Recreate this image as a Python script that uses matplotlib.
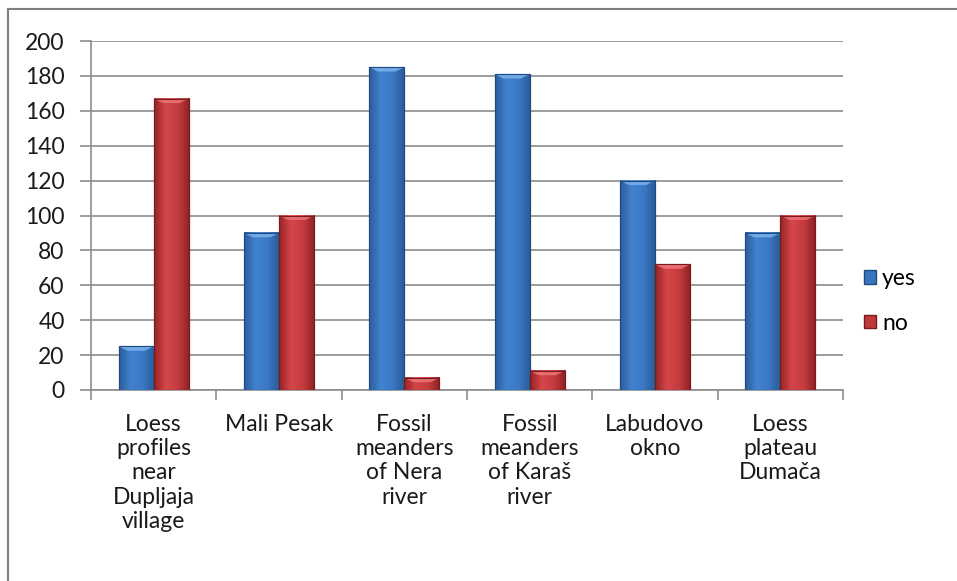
import matplotlib
matplotlib.use("Agg")
import matplotlib.pyplot as plt
import numpy as np
from matplotlib.patches import Rectangle, Polygon
from matplotlib.colors import LinearSegmentedColormap

categories = ["Loess\nprofiles\nnear\nDupljaja\nvillage", "Mali Pesak",
              "Fossil\nmeanders\nof Nera\nriver", "Fossil\nmeanders\nof Karaš\nriver",
              "Labudovo\nokno", "Loess\nplateau\nDumača"]
yes_vals = [25, 90, 185, 181, 120, 90]
no_vals = [167, 100, 7, 11, 72, 100]
series_names = ["yes", "no"]
yticks = list(range(0, 201, 20))

plt.rcParams['font.family'] = ['Lato', 'DejaVu Sans']
FS = 16.5
fig = plt.figure(figsize=(9.57, 5.81), dpi=100)
ax = fig.add_axes([91/957, 1-390/581, (843-91)/957, (390-41)/581])

fig.patches.append(Rectangle((8/957, -0.01), 1.0, 1-9/581+0.01, transform=fig.transFigure,
                             fill=False, edgecolor='#808080', lw=1.5))

x = np.arange(len(categories))
w = 0.28
blue_cmap = LinearSegmentedColormap.from_list('b', ['#2d5d9b', '#4183d0', '#3b78c4', '#2a5a96'])
red_cmap = LinearSegmentedColormap.from_list('r', ['#962426', '#d5464a', '#c43c3f', '#8e2124'])
grad = np.linspace(0, 1, 64).reshape(1, -1)

for vals, off, cmap, ec, top, lab in [(yes_vals, -w/2, blue_cmap, '#1f4a80', '#7fb6f0', series_names[0]),
                                       (no_vals, w/2, red_cmap, '#7a1a1c', '#f07a7c', series_names[1])]:
    bars = ax.bar(x + off, vals, width=w, color=cmap(0.5), edgecolor=ec, lw=0.8, label=lab, zorder=3)
    for b in bars:
        bx, by, bw, bh = b.get_x(), b.get_y(), b.get_width(), b.get_height()
        ax.imshow(grad, cmap=cmap, aspect='auto', extent=[bx, bx+bw, by, by+bh], zorder=3.5)
        bev = min(2.5, bh/2)
        ax.add_patch(Polygon([(bx, by+bh), (bx+bw, by+bh), (bx+bw*0.75, by+bh-bev), (bx+bw*0.25, by+bh-bev)],
                             closed=True, facecolor=top, edgecolor='none', alpha=0.8, zorder=3.8))
        ax.add_patch(Rectangle((bx, by), bw, bh, fill=False, edgecolor=ec, lw=0.8, zorder=4))

ax.set_xlim(-0.5, len(categories)-0.5)
ax.set_ylim(0, 200)
ax.set_yticks(yticks)
ax.set_yticklabels([str(t) for t in yticks])
ax.yaxis.grid(True, color='#8c8c8c', lw=1.2, zorder=0)
ax.set_axisbelow(True)
ax.set_xticks(np.arange(len(categories)+1) - 0.5, minor=False)
ax.set_xticklabels([])
ax.set_xticks(x, minor=True)
ax.set_xticklabels(categories, minor=True, fontsize=FS, linespacing=1.2, va='top', color='#1a1a1a')
ax.tick_params(axis='x', which='minor', length=0, pad=17)
ax.tick_params(axis='x', which='major', length=7, color='#8c8c8c', width=1.2)
ax.tick_params(axis='y', length=8, color='#8c8c8c', width=1.2, labelsize=FS, labelcolor='#1a1a1a', pad=11)
for s in ['top', 'right']:
    ax.spines[s].set_visible(False)
for s in ['left', 'bottom']:
    ax.spines[s].set_color('#8c8c8c')
    ax.spines[s].set_linewidth(1.2)

handles = [Rectangle((0, 0), 1, 1, facecolor='#3a74bf', edgecolor='#1f4a80'),
           Rectangle((0, 0), 1, 1, facecolor='#c03a3c', edgecolor='#7a1a1c')]
fig.legend(handles, series_names, loc='center left', bbox_to_anchor=(843/957, 1-301/581),
           frameon=False, fontsize=FS, handlelength=0.55, handleheight=0.55,
           handletextpad=0.25, labelspacing=1.02)

fig.savefig("out.png", dpi=100)
